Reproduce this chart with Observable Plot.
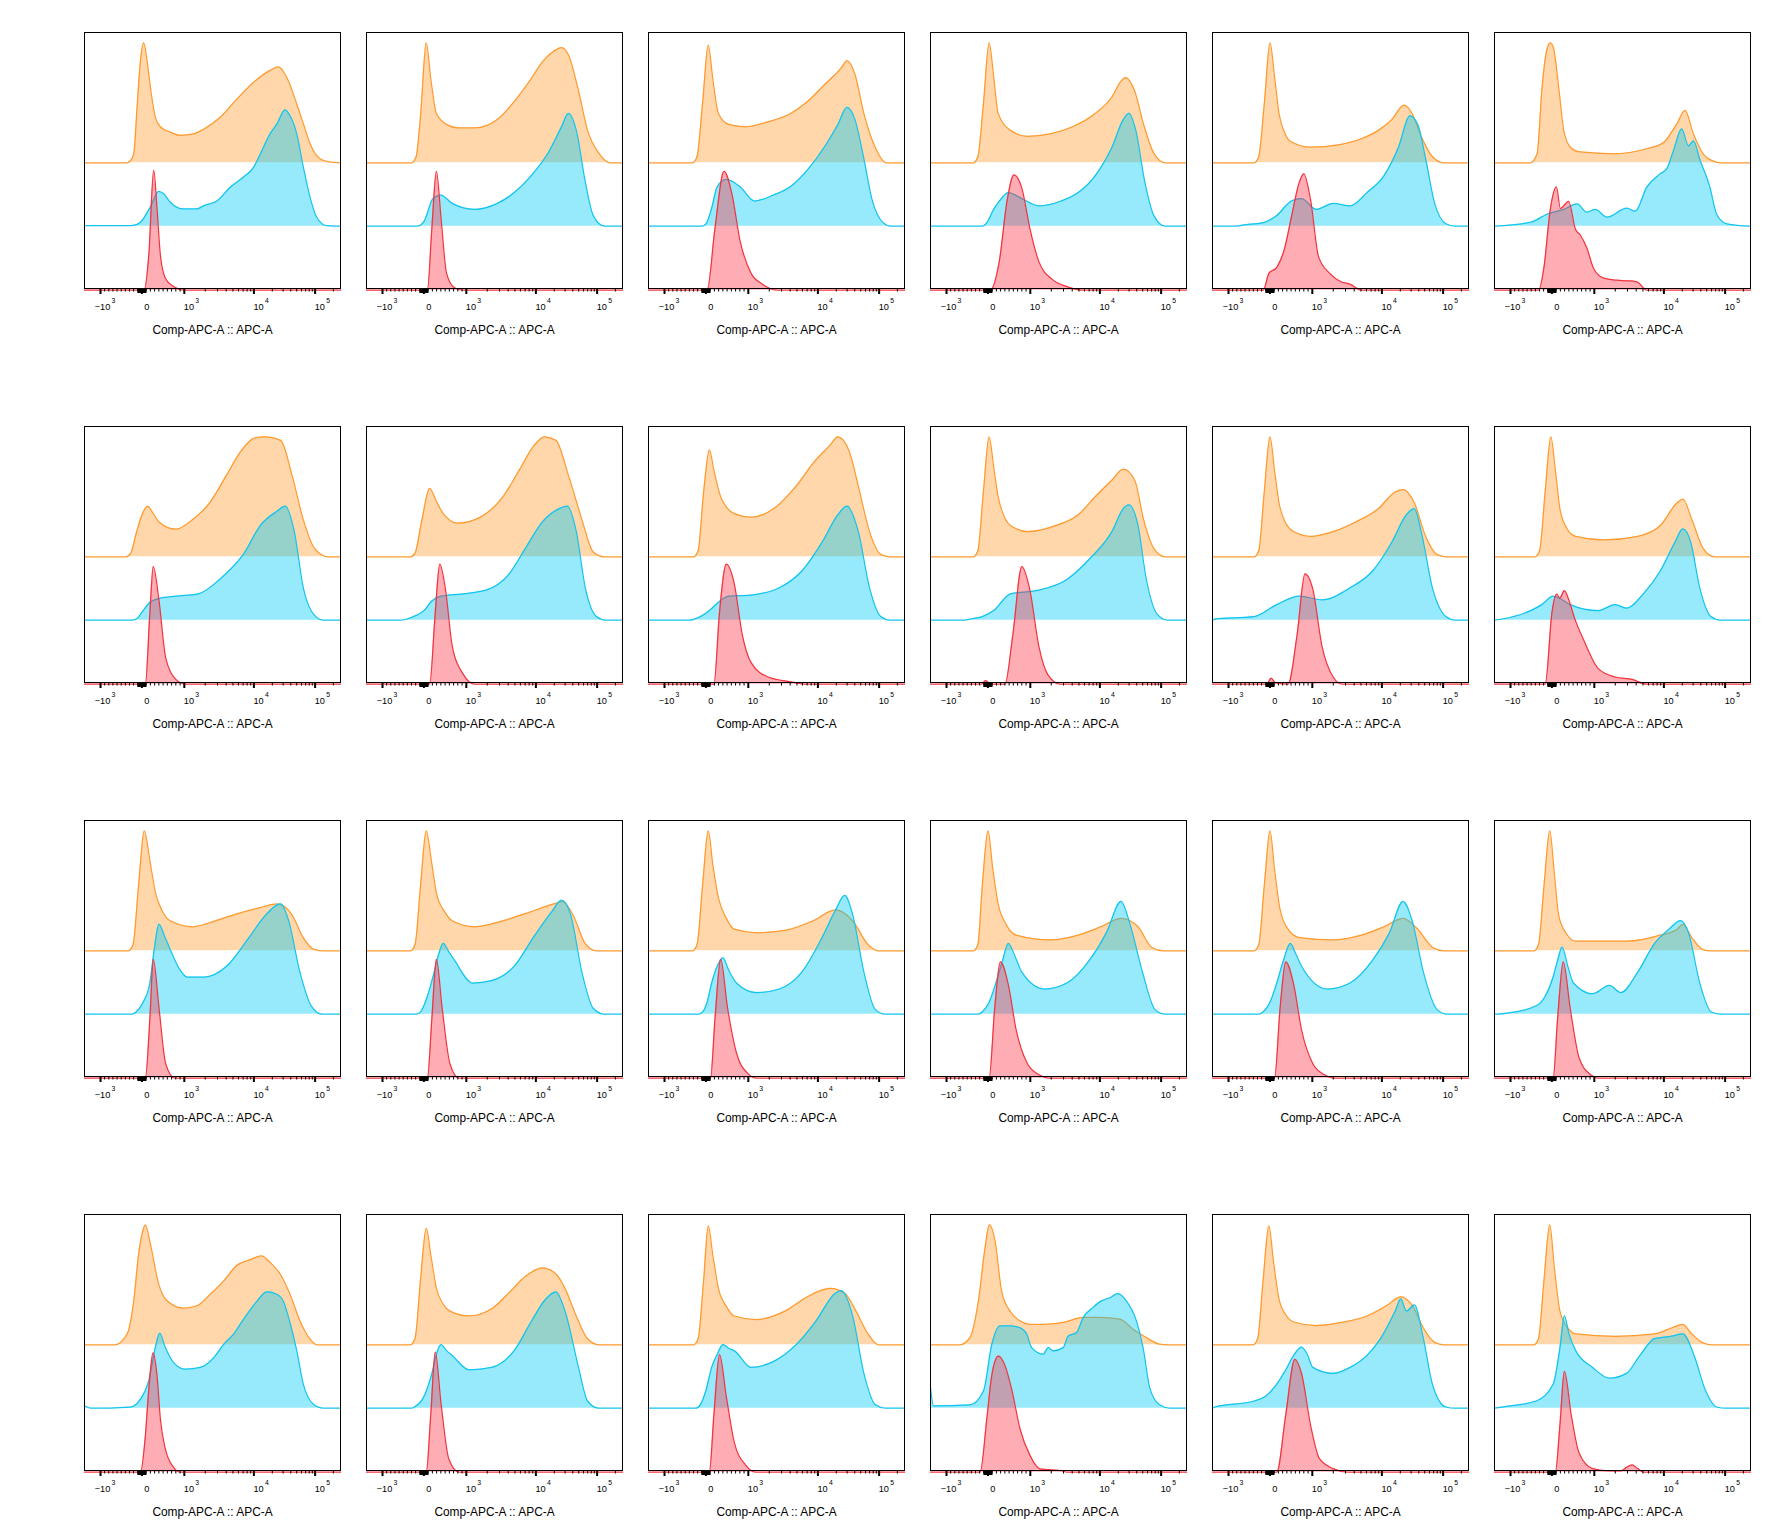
<!DOCTYPE html>
<html>
<head>
<meta charset="utf-8">
<script src="https://cdn.jsdelivr.net/npm/d3@7"></script>
<script src="https://cdn.jsdelivr.net/npm/@observablehq/plot@0.6"></script>
<style>
  html, body { margin: 0; padding: 0; background: #fff; }
  #wrap { position: relative; width: 1771px; height: 1535px; }
  #wrap > div { position: absolute; }
</style>
</head>
<body>
<div id="wrap"></div>
<script>
// ---- Data: histogram control points [channel (0-227 biex display), height (% of mode)] ----
const xLabel = "Comp-APC-A :: APC-A";
const majorTickValues = [-1000, 0, 1000, 10000, 100000];
const majorTickBase = ["−10", "0", "10", "10", "10"];
const majorTickSup = ["3", "", "3", "4", "5"];

const orange = [
 [[0,0],[37.8,0],[41,2],[43.7,7.5],[46.6,46],[49.6,85],[52.5,100],[55.5,85],[58.4,63],[62.8,38],[67.3,30],[76.1,25.5],[85,22.8],[96.8,24],[105.6,28],[120.4,38],[135.1,53],[149.9,67],[164.6,77],[172,80],[179.4,71],[188.2,49],[194.1,32.5],[200,16],[208.8,3.3],[217.7,0.5],[227,0]],
 [[0,0],[40,0],[44,5],[48,40],[53,100],[57,70],[62,41],[71,32],[81,29],[96,29],[116,36],[131,51],[146,70],[156,84],[166,93],[173,96],[179,90],[188,60],[196,27],[206,8],[216,0],[227,0]],
 [[0,0],[39,0],[43,5],[48,50],[53,98],[57,70],[62,41],[71,32],[86,30],[106,34],[126,41],[141,51],[156,65],[171,79],[176,85],[183,74],[191,41],[201,13],[211,0],[227,0]],
 [[0,0],[38,0],[42,5],[47,50],[52,100],[56,72],[60,41],[71,27],[86,22],[106,24],[126,30],[146,41],[161,55],[169,68],[173,71],[181,60],[189,32],[198,8],[208,0],[227,0]],
 [[0,0],[37,0],[41,5],[46,50],[51,100],[55,72],[59,41],[64,25],[69,18],[87,13],[112,15],[132,20],[147,27],[159,36],[170,48],[177,41],[185,22],[195,5],[205,0],[227,0]],
 [[0,0],[31.9,0],[37.8,7.5],[42.2,63],[46.6,95],[49.6,100],[52.5,95],[56.9,63],[61.4,27],[67.3,13],[76.1,9],[105.6,7.5],[135,11.7],[150,17],[161.7,32.5],[169,43.6],[176.4,24],[185,7.5],[194,1.4],[200,0],[227,0]],
 [[0,0],[37,0],[41,3],[46,20],[51,35],[56,42],[61,36],[66,29],[81,23],[96,31],[111,45],[126,68],[138,87],[151,99],[161,100],[174,97],[184,68],[194,31],[204,7],[216,0],[227,0]],
 [[0,0],[39,0],[43,3],[49,30],[56,57],[62,46],[68,36],[81,28],[101,33],[121,50],[136,73],[148,92],[158,100],[168,97],[179,68],[191,31],[201,4],[211,0],[227,0]],
 [[0,0],[40,0],[44,5],[49,55],[54,89],[58,72],[64,50],[76,36],[91,33],[111,40],[131,59],[146,78],[161,93],[168,100],[178,88],[186,59],[196,21],[206,2],[214,0],[227,0]],
 [[0,0],[38,0],[42,5],[47,55],[52,100],[56,75],[60,50],[71,26],[86,21],[111,26],[131,35],[146,50],[161,64],[171,73],[181,64],[189,31],[198,7],[208,0],[227,0]],
 [[0,0],[37,0],[41,5],[46,55],[51,100],[55,72],[59,45],[65,28],[72,21],[87,17],[107,21],[127,29],[147,40],[162,54],[169,56],[179,45],[189,17],[199,2],[207,0],[227,0]],
 [[0,0],[36,0],[40,5],[45,55],[50,100],[54,72],[58,40],[64,24],[72,17],[97,14],[127,17],[147,26],[162,45],[167,48],[175,31],[185,7],[195,0],[227,0]],
 [[0,0],[39,0],[43,5],[48,55],[53,100],[58,75],[63,48],[69,33],[76,25],[96,20],[116,25],[136,31],[156,36],[171,39],[184,30],[194,11],[204,1],[212,0],[227,0]],
 [[0,0],[39,0],[43,5],[48,55],[53,100],[58,72],[62,48],[69,33],[76,25],[96,20],[121,25],[141,31],[166,39],[174,41],[183,30],[194,6],[204,0],[227,0]],
 [[0,0],[39,0],[43,5],[48,55],[53,100],[57,72],[62,44],[69,27],[76,18],[96,15],[121,17],[146,25],[166,34],[181,25],[194,6],[204,0],[227,0]],
 [[0,0],[38,0],[42,5],[46,55],[51,100],[55,70],[60,39],[67,22],[76,13],[106,9],[131,13],[151,20],[169,27],[184,20],[196,3],[206,0],[227,0]],
 [[0,0],[37,0],[41,5],[46,55],[51,100],[55,68],[60,34],[67,18],[77,11],[107,9],[132,13],[152,20],[169,27],[182,18],[195,3],[205,0],[227,0]],
 [[0,0],[35,0],[39,5],[44,55],[49,100],[53,65],[57,29],[64,14],[72,8],[117,8],[147,13],[162,18],[167,22],[175,11],[185,1],[192,0],[227,0]],
 [[0,0],[27,0],[37.8,9],[43.7,36.7],[48,75.5],[51,92],[54,100],[58.4,84],[65.8,50.5],[73.2,36.7],[87.9,30.5],[99.7,32.5],[111.5,42],[123.3,53],[135,66],[147,71],[157,74],[164.6,68.6],[173.5,59],[182.3,42],[191,20],[200,4.7],[206,0],[227,0]],
 [[0,0],[39,0],[43,5],[48,55],[53,97],[57,75],[62,47],[68,34],[74,28],[91,24],[111,30],[126,43],[141,57],[156,64],[168,59],[176,47],[186,24],[196,5],[206,0],[227,0]],
 [[0,0],[40,0],[44,5],[49,55],[53,99],[57,75],[62,47],[69,32],[76,24],[96,21],[121,28],[141,40],[161,47],[174,43],[184,28],[194,10],[204,0],[227,0]],
 [[0,0],[26,0],[35,6],[42.5,36.7],[48.4,81],[52.2,100],[57.2,86.7],[63,45],[70.5,28],[79.4,20],[88.2,17],[100,17],[117.7,18.6],[135.4,22.8],[150,22.8],[167.8,21.4],[179.6,13],[191.4,6],[203,0.5],[210,0],[227,0]],
 [[0,0],[36,0],[40,5],[45,55],[50,99],[54,70],[59,38],[65,25],[72,19],[92,16],[117,19],[137,24],[155,33],[167,40],[177,33],[187,14],[197,2],[205,0],[227,0]],
 [[0,0],[35,0],[39,5],[44,55],[49,100],[53,65],[58,28],[65,14],[72,9],[107,7],[142,9],[157,14],[167,17],[174,10],[184,2],[192,0],[227,0]]
];

const blue = [
 [[0,0.5],[40,0.5],[46.6,1.5],[49.6,3.3],[58.4,16],[65.8,29],[70.2,27],[76.1,20],[87.9,14.4],[99.7,14.4],[105.6,17],[117.4,21],[129.2,32.5],[141,41],[149.9,49],[155.8,60],[164.6,77],[170.5,85],[177.9,97],[182.3,92],[188.2,77],[194.1,49],[200,24],[205.9,7.5],[214.7,0.5],[227,0]],
 [[0,0],[45,0],[51,4],[59,23],[66,26],[76,19],[96,14],[116,19],[131,28],[146,42],[161,61],[173,83],[179,94],[186,80],[194,37],[201,9],[211,0],[227,0]],
 [[0,0],[47,0],[51,2],[56,15],[61,33],[69,39],[81,33],[94,21],[111,26],[126,33],[141,47],[156,66],[168,85],[176,99],[183,89],[191,56],[198,23],[208,3],[215,0],[227,0]],
 [[0,0],[46,0],[50,3],[56,14],[62,22],[69,28],[81,23],[96,17],[116,21],[131,28],[146,42],[161,66],[171,89],[176,94],[182,80],[190,37],[198,9],[208,0],[227,0]],
 [[0,0],[20,0],[27,1],[45,3],[57,9],[70,21],[79,23],[92,14],[107,19],[122,17],[137,28],[152,42],[165,66],[175,92],[182,85],[189,56],[197,19],[207,2],[215,0],[227,0]],
 [[0,0],[31.9,3.3],[46.6,10],[61.4,14],[73.2,18.6],[82,11.7],[89.4,14],[99.7,7.5],[117.4,15],[124.8,12.5],[135,32.5],[146.9,43.6],[152.8,48],[158.7,63],[166,81],[172,67],[176.4,71],[182.3,55],[191,32.5],[197,10],[206,2],[227,0]],
 [[0,0],[42,0],[46,1],[52,8],[58,15],[66,18],[81,20],[101,22],[121,35],[141,55],[156,79],[171,91],[178,95],[186,74],[194,27],[204,4],[212,0],[227,0]],
 [[0,0],[30,0],[36,1],[44,4],[51,8],[58,16],[66,20],[86,22],[106,25],[126,38],[141,60],[156,82],[171,93],[178,95],[186,74],[194,27],[204,3],[212,0],[227,0]],
 [[0,0],[36,0],[41,1],[48,4],[54,8],[62,15],[71,20],[91,21],[116,27],[136,41],[154,65],[168,88],[176,95],[186,74],[196,27],[206,3],[214,0],[227,0]],
 [[0,0],[30,0],[36,1],[46,3],[56,8],[71,22],[96,25],[121,34],[141,51],[161,74],[171,93],[176,96],[184,79],[191,36],[201,5],[210,0],[227,0]],
 [[0,0],[2,1],[37,3],[57,13],[77,20],[97,17],[122,27],[142,41],[159,65],[172,88],[179,93],[185,74],[195,27],[207,3],[215,0],[227,0]],
 [[0,0],[7,1],[32,8],[42,13],[52,20],[60,17],[67,13],[92,8],[107,13],[117,10],[132,22],[147,41],[160,65],[167,76],[174,65],[182,27],[192,3],[200,0],[227,0]],
 [[0,0],[42,0],[46,2],[52,10],[58,26],[62,55],[66,75],[71,65],[76,54],[84,38],[91,31],[106,31],[126,40],[146,64],[161,83],[174,92],[181,78],[191,35],[201,7],[211,0],[227,0]],
 [[0,0],[44,0],[48,2],[54,15],[60,35],[64,50],[68,59],[73,52],[78,45],[94,26],[111,28],[131,40],[148,64],[164,85],[173,95],[181,83],[191,35],[201,5],[211,0],[227,0]],
 [[0,0],[44,0],[48,2],[52,10],[56,26],[61,40],[66,47],[71,37],[78,26],[96,18],[116,21],[136,35],[154,64],[166,87],[174,99],[181,83],[191,35],[201,4],[210,0],[227,0]],
 [[0,0],[42,0],[46,2],[52,10],[58,26],[64,45],[69,59],[75,48],[81,35],[101,21],[121,26],[141,45],[156,68],[169,94],[176,78],[188,35],[199,4],[208,0],[227,0]],
 [[0,0],[41,0],[45,2],[51,10],[57,26],[63,45],[69,59],[74,50],[79,40],[102,21],[122,26],[142,45],[157,68],[169,94],[177,78],[187,35],[199,4],[208,0],[227,0]],
 [[0,0],[12,1],[37,7],[45,15],[52,31],[56,45],[60,56],[65,40],[70,26],[87,17],[102,24],[112,18],[127,35],[142,59],[155,71],[165,78],[172,68],[182,26],[192,2],[200,0],[227,0]],
 [[0,2],[5.3,0],[40.7,1],[49.6,7.5],[57,22.8],[62.8,50.5],[66.7,62.5],[71.7,50.5],[79,38],[89.4,32.5],[102.7,34],[114.5,42],[123.3,53],[132.2,61.7],[141,74],[152.8,89],[161.7,97],[170.5,95],[176.4,89],[182.3,71],[188.2,48],[194,20],[203,3.3],[211.8,0],[227,0]],
 [[0,0],[40,0],[44,2],[50,8],[58,29],[62,45],[66,53],[71,48],[76,44],[91,32],[111,34],[131,48],[146,72],[159,91],[168,97],[176,81],[188,34],[196,6],[206,0],[227,0]],
 [[0,0],[42,0],[46,3],[51,15],[56,34],[61,45],[66,53],[71,50],[76,48],[91,34],[111,39],[131,53],[148,72],[166,96],[171,98],[181,77],[191,29],[201,3],[210,0],[227,0]],
 [[0,17],[2.7,2],[35,2.8],[47,14.4],[54.3,53],[61.7,68.6],[70.5,68.6],[79.4,67],[85.3,61.7],[89.7,50.5],[100,45],[104.4,50.5],[108.8,47.8],[117.7,50.5],[122,60],[129.5,63],[135.4,75.5],[144.2,84],[151.6,89.4],[159,92],[166.4,95.5],[173.7,89.4],[182.6,72.8],[188.5,50.5],[194.4,17],[203.2,2.8],[212,0],[227,0]],
 [[0,0],[2,1],[37,6],[47,10],[57,20],[65,32],[72,44],[79,51],[84,45],[89,34],[107,29],[122,34],[137,44],[149,58],[162,81],[167,91],[172,81],[179,86],[187,58],[195,20],[207,1],[215,0],[227,0]],
 [[0,0],[7,1],[37,6],[52,20],[58,50],[62,77],[66,62],[72,48],[87,34],[102,25],[117,29],[129,44],[142,58],[157,60],[167,62],[177,44],[187,15],[197,1],[205,0],[227,0]]
];

const red = [
 [[0,0],[53,0],[57,29],[61.4,100],[64.3,68],[67.3,29],[71.7,10],[79,3],[88,0],[227,0]],
 [[0,0],[54,0],[58,52],[62,99],[66,61],[71,14],[78,2],[85,0],[227,0]],
 [[0,0],[52,0],[59,52],[67,99],[74,80],[81,42],[91,14],[101,5],[115,0],[227,0]],
 [[0,0],[53,0],[61,24],[68,75],[74,96],[81,85],[88,52],[96,24],[108,9],[121,3],[135,0],[227,0]],
 [[0,0],[45,0],[50,14],[57,19],[64,35],[70,61],[77,90],[81,97],[87,75],[94,28],[104,14],[114,7],[122,5],[132,0],[227,0]],
 [[0,0],[39.2,0],[43.7,18],[49.6,68],[54.9,86],[58.4,68],[65.8,74],[71.7,51],[76.1,46],[82,35],[87.9,18],[96.8,10],[108.6,8.3],[117.4,7.8],[126.3,7],[135,0],[227,0]],
 [[0,0],[54,0],[58,60],[61,98],[66,70],[72,22],[81,4],[90,0],[227,0]],
 [[0,0],[56,0],[61,60],[65,100],[70,79],[76,32],[86,8],[96,0],[227,0]],
 [[0,0],[58,0],[63,60],[69,100],[76,84],[83,42],[91,18],[106,6],[126,2],[140,0],[227,0]],
 [[0,0],[45,0],[49,3],[53,0],[66,0],[73,41],[81,98],[88,79],[96,32],[104,8],[115,0],[227,0]],
 [[0,0],[48,0],[52,5],[56,1],[67,0],[75,41],[82,92],[89,79],[97,32],[107,6],[115,0],[227,0]],
 [[0,0],[45,0],[51,60],[55,75],[58,72],[62,78],[66,70],[71,55],[79,37],[92,13],[107,6],[122,4],[135,0],[227,0]],
 [[0,0],[54,0],[58,50],[61,99],[66,59],[72,12],[80,0],[227,0]],
 [[0,0],[54,0],[58,50],[62,99],[67,59],[74,12],[82,0],[227,0]],
 [[0,0],[55,0],[59,50],[64,99],[70,59],[78,21],[88,4],[96,0],[227,0]],
 [[0,0],[52,0],[57,59],[62,97],[69,78],[76,40],[86,12],[96,3],[105,0],[227,0]],
 [[0,0],[55,0],[60,59],[65,97],[72,78],[79,40],[89,12],[99,3],[108,0],[227,0]],
 [[0,0],[52,0],[56,50],[61,97],[67,59],[75,17],[85,3],[92,0],[227,0]],
 [[0,0],[49.6,0],[54,30.5],[57,69],[60.8,99.4],[64.3,80.5],[67.3,44],[71.7,19.4],[79,4],[85,0],[227,0]],
 [[0,0],[53,0],[57,48],[61,100],[66,58],[73,11],[82,0],[227,0]],
 [[0,0],[54,0],[58,48],[63,98],[69,63],[76,25],[86,6],[95,0],[227,0]],
 [[0,0],[44,0],[49.9,44],[54.3,80.5],[60.2,96.7],[66,89],[72,69],[79.4,36],[88.2,14],[97,2.8],[117.7,1],[120.6,0],[227,0]],
 [[0,0],[57,0],[65,48],[73,94],[79,82],[87,39],[95,11],[107,3],[120,0],[227,0]],
 [[0,0],[54,0],[58,39],[62,84],[68,48],[75,16],[87,3],[102,1],[112,1],[117,4],[122,6],[127,3],[132,0],[227,0]]
];

// ---- biexponential display: value -> channel (0..227) ----
const linPart = d3.scaleLinear().domain([-1000, 0, 1000]).range([14.2, 50.9, 88.5]);
const logPart = d3.scaleLinear().domain([3, 4, 5, Math.log10(262144)]).range([88.5, 150.2, 204.5, 227]);
const biex = v => (v <= 1000 ? linPart(v) : logPart(Math.log10(v)));

const minorValues = [
  ...d3.range(-900, 0, 100),
  ...d3.range(100, 1000, 100),
  ...d3.range(2000, 10000, 1000),
  ...d3.range(20000, 100000, 10000),
  200000
];
const zeroValues = [...d3.range(-90, 0, 10), ...d3.range(10, 100, 10)];

const majorTicks = majorTickValues.map((v, i) => ({pos: biex(v), base: majorTickBase[i], sup: majorTickSup[i], v}));

const layers = [
  {data: orange, offset: 104.75, stroke: "#ff9a2e", fill: "#ff9a2e", op: 0.4},
  {data: blue,   offset: 51.9,   stroke: "#12c4ee", fill: "#00cbf5", op: 0.41},
  {data: red,    offset: -1.4,   stroke: "#f2343f", fill: "#ff3344", op: 0.4}
];

const wrap = document.getElementById("wrap");
const ML = 10, MT = 5, PW = 256, PH = 256;

for (let i = 0; i < 24; i++) {
  const r = Math.floor(i / 6), c = i % 6;
  const marks = [];
  for (const L of layers) {
    const pts = L.data[i];
    marks.push(Plot.areaY(pts, {x: d => d[0], y1: L.offset, y2: d => L.offset + d[1], curve: "monotone-x", fill: L.fill, fillOpacity: L.op}));
    marks.push(Plot.lineY(pts, {x: d => d[0], y: d => L.offset + d[1], curve: "monotone-x", stroke: L.stroke, strokeWidth: 1.25}));
  }
  marks.push(Plot.frame({stroke: "black", strokeWidth: 1}));
  marks.push(Plot.axisX(minorValues.map(biex), {tickSize: 3.5, strokeWidth: 1, tickFormat: () => "", label: null}));
  marks.push(Plot.axisX(zeroValues.map(biex), {tickSize: 5, strokeWidth: 1.5, tickFormat: () => "", label: null}));
  marks.push(Plot.axisX(majorTicks.map(d => d.pos), {tickSize: 6, strokeWidth: 2, tickFormat: () => "", label: null}));
  marks.push(Plot.text(majorTicks.filter(d => d.v !== 0), {x: "pos", text: "base", frameAnchor: "bottom", lineAnchor: "bottom", textAnchor: "end", dx: 9.8, dy: 21.3, fontSize: 9.2, fill: "black"}));
  marks.push(Plot.text(majorTicks.filter(d => d.v === 0), {x: "pos", text: "base", frameAnchor: "bottom", lineAnchor: "bottom", textAnchor: "middle", dx: 4.8, dy: 21.3, fontSize: 9.2, fill: "black"}));
  marks.push(Plot.text(majorTicks.filter(d => d.sup), {x: "pos", text: "sup", frameAnchor: "bottom", lineAnchor: "bottom", textAnchor: "start", dx: 11, dy: 14.8, fontSize: 6.8, fill: "black"}));
  marks.push(Plot.text([xLabel], {frameAnchor: "bottom", lineAnchor: "bottom", dy: 45.5, fontSize: 11.9, fill: "black"}));

  const svg = Plot.plot({
    width: PW + 2 * ML,
    height: PH + MT + 55,
    marginLeft: ML, marginRight: ML, marginTop: MT, marginBottom: 55,
    x: {domain: [0, 227], axis: null},
    y: {domain: [0, 213.3], axis: null},
    style: {fontFamily: "'Liberation Sans', Arial, sans-serif", background: "transparent", overflow: "visible"},
    marks
  });
  const holder = document.createElement("div");
  holder.style.left = (84 + c * 282 - ML) + "px";
  holder.style.top = (32 + r * 394 - MT) + "px";
  holder.appendChild(svg);
  wrap.appendChild(holder);
}
</script>
</body>
</html>
